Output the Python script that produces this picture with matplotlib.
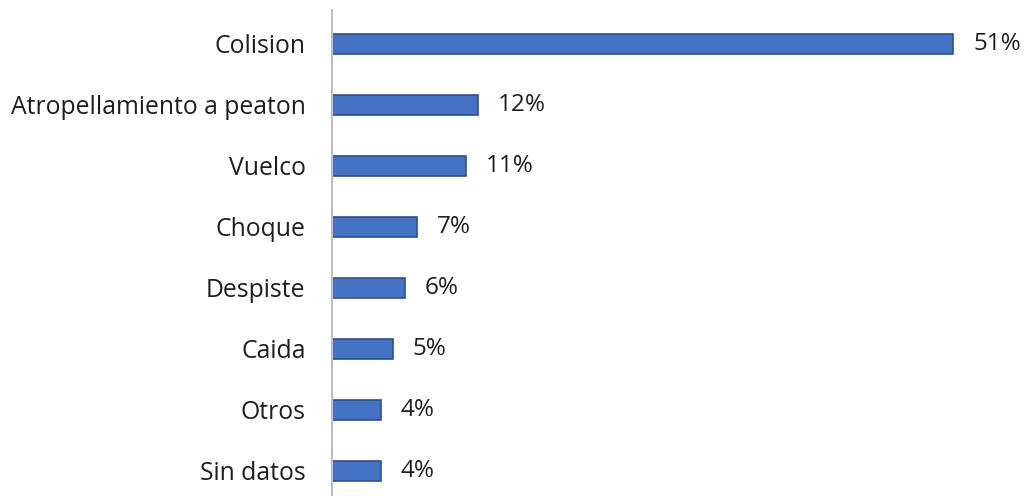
import matplotlib
matplotlib.use("Agg")
import matplotlib.pyplot as plt

categories = ["Colision", "Atropellamiento a peaton", "Vuelco", "Choque",
              "Despiste", "Caida", "Otros", "Sin datos"]
values = [51, 12, 11, 7, 6, 5, 4, 4]
labels = ["51%", "12%", "11%", "7%", "6%", "5%", "4%", "4%"]

plt.rcParams['font.family'] = ['Open Sans', 'DejaVu Sans']

fig = plt.figure(figsize=(10.26, 4.96), dpi=100)
ax = fig.add_axes([332/1026, 0, 1 - 332/1026, 486/496])

pos = list(range(len(categories)))
ax.barh(pos, values, height=0.33, color="#4472C4", edgecolor="#2F4F8F", linewidth=1.2)

for p, v, l in zip(pos, values, labels):
    ax.annotate(l, (v, p), xytext=(20, 0), textcoords="offset pixels",
                va="center", ha="left", fontsize=17.5, color="#1E1E1E")

ax.set_yticks(pos)
ax.set_yticklabels(categories, fontsize=17.8, color="#1E1E1E")
ax.set_ylim(7.41, -0.557)
ax.set_xlim(0, 694/12.18)
ax.set_xticks([])
ax.tick_params(axis='y', length=0, pad=19)
for s in ["top", "right", "bottom"]:
    ax.spines[s].set_visible(False)
ax.spines["left"].set_color("#BFBFBF")
ax.spines["left"].set_linewidth(1.5)

fig.savefig("out.png", dpi=100)
